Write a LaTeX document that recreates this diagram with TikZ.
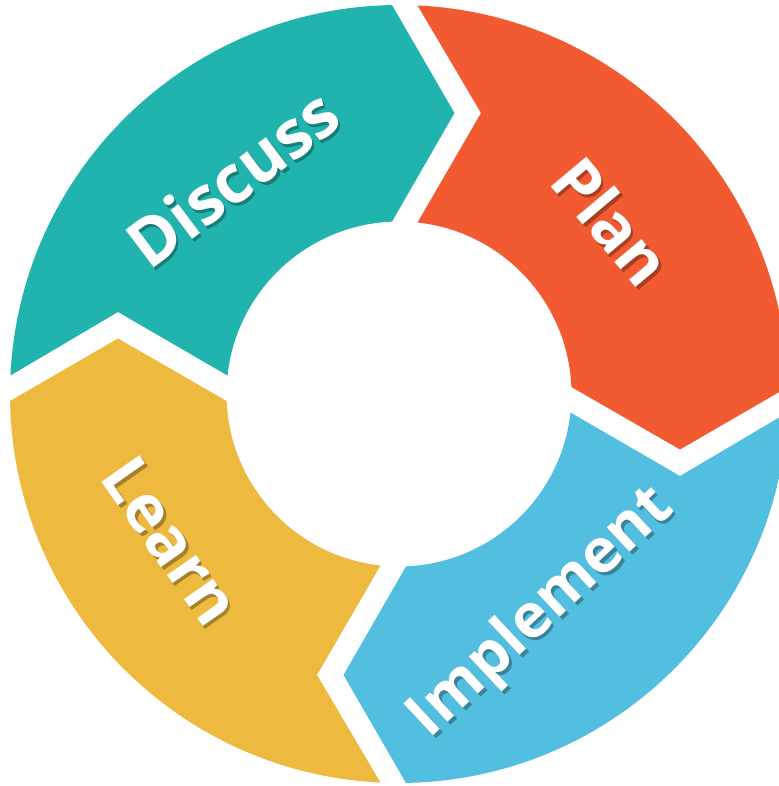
\documentclass[tikz,border=0pt]{standalone}
\usepackage{fontspec}
\setmainfont{Open Sans}
\usepackage{tikz}

\definecolor{discussteal}{RGB}{33,180,175}
\definecolor{planred}{RGB}{242,90,50}
\definecolor{implblue}{RGB}{82,190,224}
\definecolor{learnyellow}{RGB}{237,185,62}

\begin{document}
\begin{tikzpicture}[x=1pt, y=1pt,
		word/.style={text=white, inner sep=0pt, font=\bfseries\fontsize{#1}{#1}\selectfont},
		word shadow/.style={word=#1, text=black, text opacity=0.3}]
		
		\useasboundingbox (-399,-392) rectangle (379,394);
		
		% the four arrow segments, one shape turned by 90 degrees each time
		\fill[planred] (87.27:389) arc[start angle=87.27, end angle=1.03, radius=389]
		-- (281,-55.5) -- (2.33:172.5) arc[start angle=2.33, end angle=83.84, radius=172.5]
		-- (82,281) -- cycle;
		\fill[discussteal, rotate=90] (87.27:389) arc[start angle=87.27, end angle=1.03, radius=389]
		-- (281,-55.5) -- (2.33:172.5) arc[start angle=2.33, end angle=83.84, radius=172.5]
		-- (82,281) -- cycle;
		\fill[learnyellow, rotate=180] (87.27:389) arc[start angle=87.27, end angle=1.03, radius=389]
		-- (281,-55.5) -- (2.33:172.5) arc[start angle=2.33, end angle=83.84, radius=172.5]
		-- (82,281) -- cycle;
		\fill[implblue, rotate=270] (87.27:389) arc[start angle=87.27, end angle=1.03, radius=389]
		-- (281,-55.5) -- (2.33:172.5) arc[start angle=2.33, end angle=83.84, radius=172.5]
		-- (82,281) -- cycle;
		
		% labels with a soft drop shadow
		\node[word shadow=66, rotate=37] (1s) at (-164.5,213) {Discuss};
		\node[word=66, rotate=37] (1) at (-167,216) {Discuss};
		\node[word shadow=65, rotate=-50] (2s) at (215.5,170) {Plan};
		\node[word=65, rotate=-50] (2) at (213,173) {Plan};
		\node[word shadow=61, rotate=43] (3s) at (145.5,-222) {Implement};
		\node[word=61, rotate=43] (3) at (143,-219) {Implement};
		\node[word shadow=65, rotate=-55] (4s) at (-225.5,-150) {Learn};
		\node[word=65, rotate=-55] (4) at (-228,-147) {Learn};
	\end{tikzpicture}
\end{document}
